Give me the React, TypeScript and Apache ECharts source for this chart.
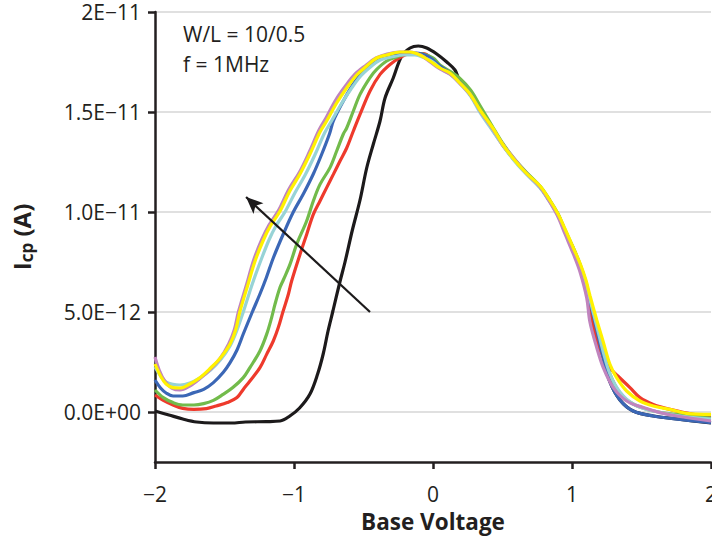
import React, { useEffect, useRef } from "react";
import * as echarts from "echarts";

// Y values are in units of 1E-12 A
const yTickValues = [0, 5, 10, 15, 20];
const yTickLabels = ["0.0E+00", "5.0E\u221212", "1.0E\u221211", "1.5E\u221211", "2E\u221211"];
const xTickValues = [-2, -1, 0, 1, 2];
const xTickLabels = ["\u22122", "\u22121", "0", "1", "2"];
const annotationLines = ["W/L = 10/0.5", "f = 1MHz"];
const arrowFrom = [-0.453, 5.0];
const arrowTo = [-1.345, 10.75];

const blackCurve = [
  [-2.0, 0.05], [-1.9, -0.15], [-1.8, -0.35], [-1.7, -0.5], [-1.58, -0.55], [-1.45, -0.55],
  [-1.35, -0.5], [-1.2, -0.48], [-1.1, -0.45], [-1.03, -0.2], [-0.96, 0.2], [-0.885, 0.9],
  [-0.83, 1.9], [-0.79, 2.9], [-0.755, 4.05], [-0.72, 5.05], [-0.67, 6.5], [-0.633, 7.5],
  [-0.58, 9.1], [-0.525, 10.6], [-0.477, 12.2], [-0.429, 13.4], [-0.381, 14.55], [-0.345, 15.7],
  [-0.286, 16.7], [-0.225, 17.8], [-0.165, 18.2], [-0.106, 18.3], [-0.045, 18.2], [0.027, 17.9],
  [0.099, 17.5], [0.158, 17.1], [0.19, 16.6], [0.27, 15.85], [0.34, 15.05], [0.43, 14.15],
  [0.5, 13.4], [0.58, 12.65], [0.67, 11.95], [0.77, 11.25], [0.84, 10.55], [0.9, 9.85],
  [0.95, 9.05], [1.01, 8.15], [1.06, 7.3], [1.1, 6.4], [1.13, 5.5], [1.178, 4.1], [1.225, 2.7],
  [1.273, 1.5], [1.345, 0.6], [1.44, 0.05], [1.585, -0.2], [1.78, -0.37], [2.0, -0.55],
];

const redCurve = [
  [-2.0, 0.85], [-1.94, 0.58], [-1.87, 0.35], [-1.8, 0.18], [-1.72, 0.13], [-1.63, 0.17],
  [-1.56, 0.3], [-1.48, 0.47], [-1.41, 0.72], [-1.365, 1.13], [-1.317, 1.55], [-1.245, 2.22],
  [-1.197, 2.88], [-1.149, 3.55], [-1.113, 4.22], [-1.08, 5.0], [-1.04, 5.9], [-1.017, 6.55],
  [-0.957, 7.88], [-0.909, 8.88], [-0.861, 9.88], [-0.813, 10.55], [-0.765, 11.22], [-0.717, 11.88],
  [-0.669, 12.55], [-0.621, 13.2], [-0.573, 14.05], [-0.525, 14.88], [-0.453, 16.05], [-0.381, 16.88],
  [-0.309, 17.38], [-0.237, 17.72], [-0.165, 17.92], [-0.07, 17.92], [0.0, 17.63], [0.05, 17.3],
  [0.12, 16.95], [0.19, 16.5], [0.27, 15.85], [0.34, 15.05], [0.43, 14.1], [0.5, 13.35],
  [0.58, 12.65], [0.67, 11.95], [0.77, 11.25], [0.84, 10.55], [0.9, 9.85], [0.95, 9.05],
  [1.01, 8.1], [1.06, 7.2], [1.1, 6.2], [1.13, 5.2], [1.16, 4.1], [1.2, 3.1], [1.26, 2.3],
  [1.33, 1.8], [1.417, 1.22], [1.489, 0.72], [1.585, 0.38], [1.705, 0.13], [1.873, -0.12], [2.0, -0.2],
];

const greenCurve = [
  [-2.0, 1.1], [-1.94, 0.72], [-1.87, 0.47], [-1.8, 0.35], [-1.72, 0.35], [-1.65, 0.42],
  [-1.58, 0.58], [-1.51, 0.88], [-1.44, 1.22], [-1.365, 1.72], [-1.317, 2.22], [-1.245, 3.05],
  [-1.197, 3.88], [-1.161, 4.72], [-1.137, 5.38], [-1.101, 6.22], [-1.077, 6.6], [-1.029, 7.38],
  [-0.981, 8.38], [-0.909, 9.55], [-0.861, 10.55], [-0.813, 11.38], [-0.741, 12.22], [-0.693, 13.05],
  [-0.645, 13.9], [-0.621, 14.2], [-0.573, 15.05], [-0.525, 15.88], [-0.453, 16.72], [-0.405, 17.13],
  [-0.333, 17.55], [-0.261, 17.75], [-0.189, 17.9], [-0.1, 17.92], [0.0, 17.7], [0.05, 17.35],
  [0.12, 17.05], [0.19, 16.7], [0.27, 16.1], [0.34, 15.3], [0.43, 14.25], [0.5, 13.45],
  [0.58, 12.7], [0.67, 12.0], [0.77, 11.3], [0.84, 10.6], [0.9, 9.9], [0.95, 9.1],
  [1.01, 8.2], [1.06, 7.35], [1.1, 6.5], [1.13, 5.6], [1.178, 4.3], [1.225, 3.0], [1.273, 1.9],
  [1.345, 0.95], [1.44, 0.4], [1.585, 0.05], [1.78, -0.15], [2.0, -0.3],
];

const blueCurve = [
  [-2.0, 1.6], [-1.96, 1.2], [-1.92, 0.95], [-1.87, 0.8], [-1.8, 0.8], [-1.72, 0.97],
  [-1.65, 1.13], [-1.58, 1.47], [-1.51, 1.97], [-1.46, 2.47], [-1.41, 3.1], [-1.365, 3.9],
  [-1.3, 5.0], [-1.245, 5.9], [-1.2, 6.7], [-1.149, 7.7], [-1.077, 8.9], [-1.005, 10.0],
  [-0.933, 10.9], [-0.861, 11.9], [-0.8, 12.9], [-0.745, 13.9], [-0.717, 14.55], [-0.645, 15.55],
  [-0.573, 16.4], [-0.501, 17.05], [-0.429, 17.45], [-0.357, 17.7], [-0.286, 17.85], [-0.214, 17.9],
  [-0.12, 17.95], [-0.03, 17.75], [0.05, 17.3], [0.12, 16.95], [0.19, 16.5], [0.27, 15.85],
  [0.34, 15.05], [0.43, 14.15], [0.5, 13.4], [0.58, 12.65], [0.67, 11.95], [0.77, 11.25],
  [0.84, 10.55], [0.9, 9.85], [0.95, 9.05], [1.01, 8.15], [1.06, 7.3], [1.1, 6.4], [1.13, 5.5],
  [1.178, 4.1], [1.225, 2.7], [1.273, 1.5], [1.345, 0.6], [1.44, 0.05], [1.585, -0.2],
  [1.78, -0.37], [2.0, -0.53],
];

const cyanCurve = [
  [-2.0, 2.25], [-1.96, 1.8], [-1.92, 1.5], [-1.87, 1.38], [-1.82, 1.35], [-1.75, 1.45],
  [-1.68, 1.7], [-1.6, 2.1], [-1.53, 2.6], [-1.46, 3.3], [-1.41, 4.1], [-1.365, 5.0],
  [-1.3, 6.4], [-1.24, 7.55], [-1.18, 8.6], [-1.13, 9.3], [-1.065, 10.0], [-0.99, 11.0],
  [-0.92, 11.85], [-0.85, 12.85], [-0.78, 13.95], [-0.73, 14.55], [-0.66, 15.4], [-0.59, 16.15],
  [-0.52, 16.8], [-0.45, 17.25], [-0.38, 17.6], [-0.3, 17.75], [-0.21, 17.85], [-0.13, 17.85],
  [-0.06, 17.7], [0.0, 17.5], [0.05, 17.2], [0.12, 16.9], [0.19, 16.45], [0.27, 15.8],
  [0.34, 14.95], [0.43, 14.05], [0.5, 13.35], [0.58, 12.6], [0.67, 11.9], [0.77, 11.2],
  [0.84, 10.5], [0.9, 9.8], [0.95, 9.0], [1.01, 8.1], [1.06, 7.3], [1.1, 6.4], [1.13, 5.6],
  [1.178, 4.3], [1.225, 3.0], [1.273, 1.9], [1.345, 1.0], [1.44, 0.4], [1.585, 0.05],
  [1.78, -0.2], [2.0, -0.35],
];

const purpleCurve = [
  [-2.0, 2.75], [-1.97, 2.1], [-1.93, 1.55], [-1.88, 1.2], [-1.82, 1.1], [-1.75, 1.3],
  [-1.68, 1.65], [-1.6, 2.15], [-1.53, 2.7], [-1.47, 3.4], [-1.43, 4.1], [-1.4, 5.0],
  [-1.34, 6.4], [-1.29, 7.6], [-1.23, 8.65], [-1.18, 9.35], [-1.11, 10.1], [-1.04, 11.1],
  [-0.96, 12.0], [-0.89, 13.0], [-0.82, 14.1], [-0.77, 14.7], [-0.7, 15.6], [-0.63, 16.3],
  [-0.56, 16.9], [-0.48, 17.35], [-0.41, 17.7], [-0.33, 17.9], [-0.24, 18.0], [-0.165, 18.0],
  [-0.09, 17.85], [-0.02, 17.5], [0.05, 17.15], [0.12, 16.9], [0.19, 16.45], [0.27, 15.85],
  [0.34, 15.05], [0.43, 14.15], [0.5, 13.4], [0.58, 12.7], [0.67, 11.95], [0.77, 11.25],
  [0.84, 10.5], [0.9, 9.75], [0.95, 8.9], [1.01, 7.9], [1.058, 7.0], [1.106, 5.7],
  [1.129, 4.5], [1.178, 3.22], [1.225, 2.22], [1.297, 1.22], [1.393, 0.55], [1.513, 0.22],
  [1.633, -0.03], [1.753, -0.2], [2.0, -0.45],
];

const yellowCurve = [
  [-2.0, 2.4], [-1.96, 1.8], [-1.92, 1.4], [-1.87, 1.22], [-1.82, 1.2], [-1.75, 1.4],
  [-1.68, 1.7], [-1.6, 2.2], [-1.53, 2.7], [-1.46, 3.4], [-1.42, 4.1], [-1.39, 5.0],
  [-1.33, 6.4], [-1.28, 7.55], [-1.22, 8.6], [-1.17, 9.3], [-1.1, 10.05], [-1.03, 11.05],
  [-0.957, 11.9], [-0.885, 12.9], [-0.813, 14.0], [-0.765, 14.55], [-0.693, 15.45], [-0.621, 16.2],
  [-0.549, 16.85], [-0.477, 17.3], [-0.405, 17.7], [-0.333, 17.85], [-0.237, 18.0], [-0.165, 18.0],
  [-0.094, 17.85], [-0.022, 17.55], [0.05, 17.2], [0.122, 16.95], [0.194, 16.45], [0.266, 15.9],
  [0.338, 15.1], [0.43, 14.2], [0.5, 13.4], [0.58, 12.65], [0.67, 11.95], [0.77, 11.3],
  [0.84, 10.6], [0.9, 9.9], [0.95, 9.15], [1.01, 8.2], [1.06, 7.4], [1.1, 6.6], [1.13, 5.8],
  [1.178, 4.6], [1.225, 3.5], [1.273, 2.38], [1.321, 1.72], [1.393, 1.05], [1.489, 0.55],
  [1.585, 0.3], [1.705, 0.13], [1.825, -0.07], [2.0, -0.12],
];

const seriesDefs = [
  { name: "black", color: "#1c1a1b", data: blackCurve },
  { name: "red", color: "#ee3a2c", data: redCurve },
  { name: "green", color: "#72bb4b", data: greenCurve },
  { name: "blue", color: "#3b67b6", data: blueCurve },
  { name: "cyan", color: "#97d3d6", data: cyanCurve },
  { name: "purple", color: "#c084be", data: purpleCurve },
  { name: "yellow", color: "#fff200", data: yellowCurve },
];

const FONT = "'Open Sans', 'Noto Sans', sans-serif";
const TEXT = "#231f20";

export default function App() {
  const ref = useRef<HTMLDivElement>(null);
  useEffect(() => {
    document.body.style.margin = "0";
    if (!ref.current) return;
    const chart = echarts.init(ref.current, undefined, { renderer: "svg" });
    const series: any[] = seriesDefs.map((s, i) => ({
      name: s.name,
      type: "line",
      data: s.data,
      smooth: 0.35,
      symbol: "none",
      z: 2 + i,
      lineStyle: { color: s.color, width: 3.2 },
      itemStyle: { color: s.color },
    }));
    series[0].markLine = {
      silent: true,
      symbol: ["none", "arrow"],
      symbolSize: [11, 17],
      label: { show: false },
      lineStyle: { color: "#1c1a1b", width: 2.2, type: "solid" },
      data: [[{ coord: arrowFrom }, { coord: arrowTo }]],
      z: 20,
    };
    chart.setOption({
      animation: false,
      grid: { left: 155, right: 1, top: 12, bottom: 75, outerBoundsMode: "none", containLabel: false },
      xAxis: {
        type: "value",
        min: -2,
        max: 2,
        interval: 1,
        name: "Base Voltage",
        nameLocation: "middle",
        nameGap: 48,
        nameTextStyle: { fontFamily: FONT, fontSize: 22.5, fontWeight: "bold", color: TEXT },
        axisLine: { show: true, onZero: false, lineStyle: { color: TEXT, width: 2.5 } },
        axisTick: { show: true, length: 7, lineStyle: { color: TEXT, width: 2.5 } },
        axisLabel: {
          fontFamily: FONT,
          fontSize: 21,
          color: TEXT,
          margin: 21,
          formatter: (v: number) => {
            const idx = xTickValues.indexOf(v);
            return idx >= 0 ? xTickLabels[idx] : "";
          },
        },
        splitLine: { show: false },
      },
      yAxis: {
        type: "value",
        min: -2.5,
        max: 20,
        name: "{b|I}{s|cp}{b| (A)}",
        nameLocation: "middle",
        nameGap: 120,
        nameRotate: 90,
        nameTextStyle: {
          rich: {
            b: { fontFamily: FONT, fontSize: 24, fontWeight: "bold", color: TEXT },
            s: { fontFamily: FONT, fontSize: 17, fontWeight: "bold", color: TEXT, padding: [11, 0, 0, 0] },
          },
        },
        axisLine: { show: true, onZero: false, lineStyle: { color: TEXT, width: 2.5 } },
        axisTick: { show: true, length: 7, customValues: yTickValues, lineStyle: { color: TEXT, width: 2.5 } },
        axisLabel: {
          fontFamily: FONT,
          fontSize: 21,
          color: TEXT,
          margin: 14,
          customValues: yTickValues,
          formatter: (v: number) => {
            const idx = yTickValues.indexOf(v);
            return idx >= 0 ? yTickLabels[idx] : "";
          },
        },
        splitLine: { show: true, lineStyle: { color: "#d6d6d6", width: 1.5 } },
      },
      graphic: annotationLines.map((t, i) => ({
        type: "text",
        left: 183,
        top: 23 + i * 30,
        z: 30,
        style: { text: t, fontFamily: FONT, fontSize: 21, fill: TEXT },
      })),
      series,
    });
    return () => chart.dispose();
  }, []);
  return <div ref={ref} style={{ width: 712, height: 537 }} />;
}
